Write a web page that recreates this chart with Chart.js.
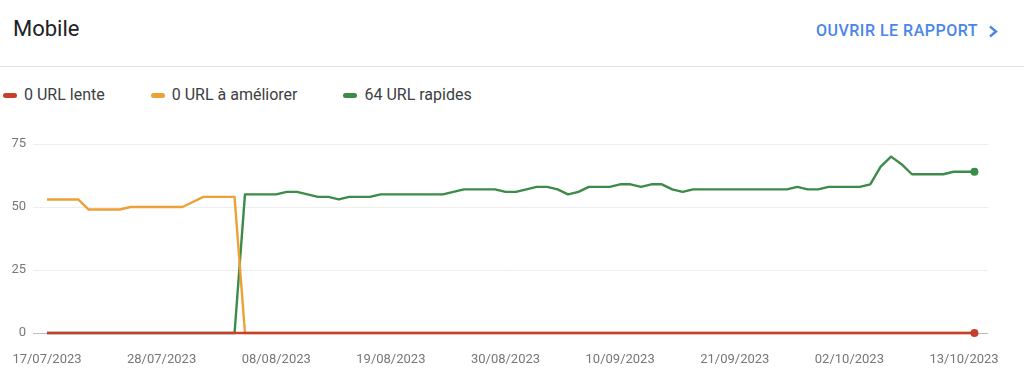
<!DOCTYPE html>
<html lang="fr">
<head>
<meta charset="utf-8">
<title>Mobile</title>
<script src="https://cdn.jsdelivr.net/npm/chart.js@4.4.1/dist/chart.umd.min.js"></script>
<style>
  html, body { margin: 0; padding: 0; background: #fff; }
  body { width: 1024px; height: 391px; position: relative; overflow: hidden; font-family: Roboto, sans-serif; }
  .title { position: absolute; left: 13px; top: 18px; font-size: 22px; line-height: 22px; color: #202124; }
  .report { position: absolute; right: 46px; top: 23px; font-size: 16px; line-height: 16px; font-weight: 500; letter-spacing: 0.5px; color: #4a86e8; }
  .chevron { position: absolute; left: 988px; top: 25px; }
  .divider { position: absolute; left: 0; right: 0; top: 66px; height: 1px; background: #e3e3e3; }
  #legend { position: absolute; left: 3px; top: 87px; display: flex; }
  .item { display: flex; align-items: center; margin-right: 46px; font-size: 16px; line-height: 16px; color: #3c4043; }
  .mark { width: 14px; height: 5px; border-radius: 3px; margin-right: 7px; }
  #chart { position: absolute; left: 0; top: 110px; }
</style>
</head>
<body>
<div class="title">Mobile</div>
<div class="report">OUVRIR LE RAPPORT</div>
<svg class="chevron" width="12" height="13" viewBox="0 0 12 13">
  <polyline points="2,1.5 8,6.5 2,11.5" fill="none" stroke="#4a86e8" stroke-width="2.4" />
</svg>
<div class="divider"></div>
<div id="legend"></div>
<canvas id="chart" width="1024" height="281"></canvas>

<script>
// one label per day, 17/07/2023 -> 14/10/2023
const dates = [
  '17/07/2023', '18/07/2023', '19/07/2023', '20/07/2023', '21/07/2023', '22/07/2023', '23/07/2023', '24/07/2023',
  '25/07/2023', '26/07/2023', '27/07/2023', '28/07/2023', '29/07/2023', '30/07/2023', '31/07/2023',
  '01/08/2023', '02/08/2023', '03/08/2023', '04/08/2023', '05/08/2023', '06/08/2023', '07/08/2023', '08/08/2023',
  '09/08/2023', '10/08/2023', '11/08/2023', '12/08/2023', '13/08/2023', '14/08/2023', '15/08/2023', '16/08/2023',
  '17/08/2023', '18/08/2023', '19/08/2023', '20/08/2023', '21/08/2023', '22/08/2023', '23/08/2023', '24/08/2023',
  '25/08/2023', '26/08/2023', '27/08/2023', '28/08/2023', '29/08/2023', '30/08/2023', '31/08/2023',
  '01/09/2023', '02/09/2023', '03/09/2023', '04/09/2023', '05/09/2023', '06/09/2023', '07/09/2023', '08/09/2023',
  '09/09/2023', '10/09/2023', '11/09/2023', '12/09/2023', '13/09/2023', '14/09/2023', '15/09/2023', '16/09/2023',
  '17/09/2023', '18/09/2023', '19/09/2023', '20/09/2023', '21/09/2023', '22/09/2023', '23/09/2023', '24/09/2023',
  '25/09/2023', '26/09/2023', '27/09/2023', '28/09/2023', '29/09/2023', '30/09/2023',
  '01/10/2023', '02/10/2023', '03/10/2023', '04/10/2023', '05/10/2023', '06/10/2023', '07/10/2023', '08/10/2023',
  '09/10/2023', '10/10/2023', '11/10/2023', '12/10/2023', '13/10/2023', '14/10/2023'
];

const tickLabels = ['17/07/2023', '28/07/2023', '08/08/2023', '19/08/2023', '30/08/2023',
  '10/09/2023', '21/09/2023', '02/10/2023', '13/10/2023'];
const yTicks = [0, 25, 50, 75];

const seriesNames = ['0 URL lente', '0 URL à améliorer', '64 URL rapides'];

const slowUrls = [
  0, 0, 0, 0, 0, 0, 0, 0, 0, 0, 0, 0, 0, 0, 0,
  0, 0, 0, 0, 0, 0, 0, 0, 0, 0, 0, 0, 0, 0, 0, 0, 0, 0, 0, 0, 0, 0, 0, 0, 0, 0, 0, 0, 0, 0, 0,
  0, 0, 0, 0, 0, 0, 0, 0, 0, 0, 0, 0, 0, 0, 0, 0, 0, 0, 0, 0, 0, 0, 0, 0, 0, 0, 0, 0, 0, 0,
  0, 0, 0, 0, 0, 0, 0, 0, 0, 0, 0, 0, 0, 0
];

const improveUrls = [
  53, 53, 53, 53, 49, 49, 49, 49, 50, 50, 50, 50, 50, 50, 52,
  54, 54, 54, 54, 0, 0, 0, 0, 0, 0, 0, 0, 0, 0, 0, 0, 0, 0, 0, 0, 0, 0, 0, 0, 0, 0, 0, 0, 0, 0, 0,
  0, 0, 0, 0, 0, 0, 0, 0, 0, 0, 0, 0, 0, 0, 0, 0, 0, 0, 0, 0, 0, 0, 0, 0, 0, 0, 0, 0, 0, 0,
  0, 0, 0, 0, 0, 0, 0, 0, 0, 0, 0, 0, 0, 0
];

const fastUrls = [
  0, 0, 0, 0, 0, 0, 0, 0, 0, 0, 0, 0, 0, 0, 0,
  0, 0, 0, 0, 55, 55, 55, 55, 56, 56, 55, 54, 54, 53, 54, 54, 54, 55, 55, 55, 55, 55, 55, 55, 56, 57, 57, 57, 57, 56, 56,
  57, 58, 58, 57, 55, 56, 58, 58, 58, 59, 59, 58, 59, 59, 57, 56, 57, 57, 57, 57, 57, 57, 57, 57, 57, 57, 58, 57, 57, 58,
  58, 58, 58, 59, 66, 70, 67, 63, 63, 63, 63, 64, 64, 64
];

const RED = '#c5402f';
const ORANGE = '#eda036';
const GREEN = '#3c8b48';
const AXIS_TEXT = '#777777';

Chart.defaults.font.family = 'Roboto';

const toPoints = values => values.map((y, i) => ({ x: i, y }));
const lastDot = ctx => (ctx.dataIndex === dates.length - 1 ? 4 : 0);

const ctx = document.getElementById('chart').getContext('2d');
const chart = new Chart(ctx, {
  type: 'line',
  data: {
    datasets: [
      { label: seriesNames[0], data: toPoints(slowUrls), borderColor: RED, backgroundColor: RED, pointRadius: lastDot },
      { label: seriesNames[1], data: toPoints(improveUrls), borderColor: ORANGE, backgroundColor: ORANGE, pointRadius: 0 },
      { label: seriesNames[2], data: toPoints(fastUrls), borderColor: GREEN, backgroundColor: GREEN, pointRadius: lastDot }
    ]
  },
  options: {
    responsive: false,
    animation: false,
    layout: { padding: { top: 34, right: 36, left: 0, bottom: 0 } },
    datasets: {
      line: {
        borderWidth: 2.4,
        tension: 0,
        clip: false,
        borderJoinStyle: 'round',
        pointBorderWidth: 0,
        pointHoverRadius: 0
      }
    },
    plugins: {
      legend: { display: false },
      tooltip: { enabled: false }
    },
    scales: {
      x: {
        type: 'linear',
        min: -1.34,
        max: 90.3,
        afterBuildTicks: scale => {
          scale.ticks = tickLabels.map(label => ({ value: dates.indexOf(label) }));
        },
        afterFit: scale => { scale.height = 58; },
        // invisible tick marks push the labels down without widening the side padding
        grid: { display: true, drawOnChartArea: false, drawTicks: true, tickLength: 16, color: 'rgba(0,0,0,0)' },
        border: { display: false },
        ticks: {
          autoSkip: false,
          maxRotation: 0,
          padding: 3,
          color: AXIS_TEXT,
          font: { size: 13 },
          callback: value => dates[value]
        }
      },
      y: {
        min: 0,
        max: 75,
        afterBuildTicks: scale => {
          scale.ticks = yTicks.map(v => ({ value: v }));
        },
        afterFit: scale => { scale.width = 33; },
        grid: {
          drawTicks: false,
          color: c => (c.tick && c.tick.value === 0 ? '#bdbdbd' : '#eeeeee')
        },
        border: { display: false },
        ticks: {
          padding: 7,
          color: AXIS_TEXT,
          font: { size: 13 }
        }
      }
    }
  }
});

// html legend built from the chart datasets
const legend = document.getElementById('legend');
chart.data.datasets.forEach(ds => {
  const item = document.createElement('div');
  item.className = 'item';
  const mark = document.createElement('span');
  mark.className = 'mark';
  mark.style.background = ds.borderColor;
  item.appendChild(mark);
  item.appendChild(document.createTextNode(ds.label));
  legend.appendChild(item);
});
</script>
</body>
</html>
